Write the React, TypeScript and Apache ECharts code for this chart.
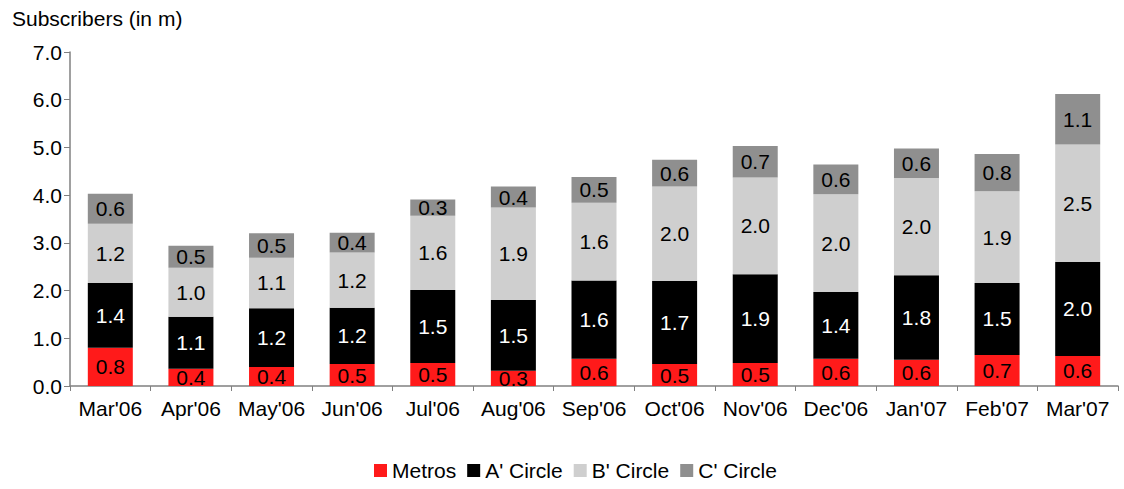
import React, { useEffect, useRef } from "react";
import * as echarts from "echarts";

const categories = ["Mar'06", "Apr'06", "May'06", "Jun'06", "Jul'06", "Aug'06", "Sep'06", "Oct'06", "Nov'06", "Dec'06", "Jan'07", "Feb'07", "Mar'07"];
const metros = [0.8, 0.36, 0.4, 0.46, 0.48, 0.32, 0.57, 0.46, 0.48, 0.57, 0.55, 0.65, 0.63];
const aCircle = [1.36, 1.09, 1.23, 1.18, 1.53, 1.48, 1.64, 1.74, 1.86, 1.4, 1.77, 1.51, 1.97];
const bCircle = [1.24, 1.03, 1.06, 1.16, 1.56, 1.94, 1.63, 1.98, 2.03, 2.05, 2.04, 1.92, 2.46];
const cCircle = [0.63, 0.46, 0.51, 0.41, 0.34, 0.44, 0.54, 0.56, 0.66, 0.62, 0.62, 0.78, 1.06];
const seriesNames = ["Metros", "A' Circle", "B' Circle", "C' Circle"];

const FONT = "'Liberation Sans', Arial, sans-serif";
const FS = 21;

export default function App() {
  const ref = useRef<HTMLDivElement>(null);
  useEffect(() => {
    if (!ref.current) return;
    const chart = echarts.init(ref.current, undefined, { renderer: "svg" });
    const mk = (name: string, data: number[], color: string, labelColor: string) => ({
      name,
      type: "bar",
      stack: "total",
      data,
      barWidth: 45,
      itemStyle: { color },
      label: {
        show: true,
        position: "inside",
        color: labelColor,
        fontSize: FS,
        fontFamily: FONT,
        formatter: (p: any) => Number(p.value).toFixed(1),
      },
    });
    chart.setOption({
      animation: false,
      textStyle: { fontFamily: FONT },
      title: {
        text: "Subscribers (in m)",
        left: 7,
        top: 3,
        textStyle: { fontSize: FS, fontWeight: "normal", color: "#000", fontFamily: FONT },
      },
      legend: {
        data: seriesNames,
        left: 369,
        top: 455,
        itemWidth: 13,
        itemHeight: 13,
        itemGap: 11,
        icon: "rect",
        textStyle: { fontSize: FS, color: "#000", fontFamily: FONT },
      },
      grid: { left: 70, right: 6, top: 52, bottom: 103, containLabel: false },
      xAxis: {
        type: "category",
        data: categories,
        axisLine: { lineStyle: { color: "#808080", width: 1.5 } },
        axisTick: { show: true, length: 5, lineStyle: { color: "#808080" } },
        axisLabel: { fontSize: FS, color: "#000", margin: 12, fontFamily: FONT, interval: 0 },
      },
      yAxis: {
        type: "value",
        min: 0,
        max: 7,
        interval: 1,
        axisLine: { show: true, lineStyle: { color: "#808080", width: 1.5 } },
        axisTick: { show: true, length: 6, lineStyle: { color: "#808080" } },
        splitLine: { show: false },
        axisLabel: {
          fontSize: FS,
          color: "#000",
          margin: 8,
          fontFamily: FONT,
          formatter: (v: number) => v.toFixed(1),
        },
      },
      series: [
        mk(seriesNames[0], metros, "#FF1A1A", "#000"),
        mk(seriesNames[1], aCircle, "#000000", "#fff"),
        mk(seriesNames[2], bCircle, "#CFCFCF", "#000"),
        mk(seriesNames[3], cCircle, "#8F8F8F", "#000"),
      ],
    });
    return () => chart.dispose();
  }, []);
  return <div ref={ref} style={{ position: "absolute", left: 0, top: 0, width: 1124, height: 489 }} />;
}
